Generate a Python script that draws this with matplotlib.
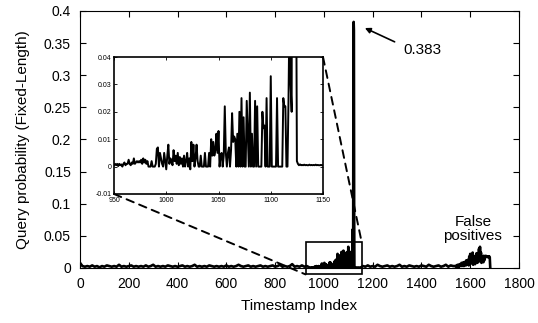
import matplotlib
matplotlib.use("Agg")
import matplotlib.pyplot as plt
import numpy as np
from matplotlib.patches import Rectangle, ConnectionPatch

plt.rcParams["font.family"] = ["Liberation Sans", "DejaVu Sans"]

# values are in units of 1e-3 (query probability)
# quiet stretch before the burst, one reading every 10 timestamps
quiet1_x = np.arange(0, 950, 10)
quiet1_y = [8, 3, 2, 3, 2, 4, 2, 3, 1, 3, 2, 4, 3, 2, 3, 2, 5, 2, 3, 2,
            3, 4, 2, 3, 2, 3, 2, 4, 2, 3, 5, 2, 3, 2, 3, 2, 4, 3, 2, 3,
            2, 3, 4, 2, 3, 2, 3, 5, 2, 3, 2, 3, 2, 4, 3, 2, 3, 2, 3, 2,
            4, 2, 3, 2, 3, 5, 3, 2, 3, 4, 2, 3, 2, 3, 4, 2, 3, 2, 3, 4,
            2, 3, 5, 2, 3, 2, 3, 6, 2, 3, 2, 4, 2, 3, 1]

# the burst, one reading per timestamp (950..1150)
burst_x = np.arange(950, 1151)
burst_y = [0.5, 1, 0.5, 1, 0.2, 1, 0.5, 0.8, 0, 1,
           1.5, 0.5, 1, 1, 2.5, 1, 0.5, 1.5, 1, 3,
           1, 1.5, 2, 1.5, 2, 1.5, 2.5, 1, 3, 1.5,
           2.5, 1, 2, 0, 0, 0, 2, 0, 0, 0,
           1, 6.5, 7, 0, 5, 3, 1, 0, 5, 2,
           -1, 4, 8, 1, 3, 2, 0.5, 6, 2, 4,
           1, 5, 0.5, 3.5, 1, 3, 0, 4, 0, 2,
           5, 0, 3, -1, 9, 2, 8, 0, 3, 8,
           2, 0, 0, 4, 0, 0, 0, 5, 0, 0,
           0, 5, 0, 10, 4, 9, 4, 6, 12, 5,
           13, 0, 4, 5, 0, 4, 22, 5, 0, 5,
           7, 0, 6, 19.5, 9, 11, 10, 0, 12, 0,
           20, 0, 25, 0, 18, 0, 0, 24, 12, 0,
           27, 0, 12, 0, 0, 24, 0, 22, 0, 0,
           0, 0, 20, 14, 15, 0, 25, 0, 0, 0,
           33, 0, 0, 0, 0, 0, 25, 0, 0, 0,
           0, 0, 25, 22, 22, 0, 0, 25, 60, 30,
           20, 300, 383, 370, 100, 2, 1, 0.5, 0.8, 0.5,
           0.6, 0.5, 0.7, 0.5, 0.6, 0.5, 0.5, 0.7, 0.5, 0.6,
           0.5, 0.6, 0.5, 0.7, 0.5, 0.6, 0.5, 0.5, 0.6, 0.5,
           0.5]

# quiet stretch after the burst
quiet2_x = np.arange(1160, 1540, 10)
quiet2_y = [3, 2, 4, 2, 3, 2, 5, 3, 2, 3, 4, 2, 3, 2, 3, 5, 2, 3, 2, 4,
            3, 2, 3, 2, 4, 3, 2, 5, 3, 2, 3, 4, 2, 3, 5, 2, 4, 3]

# false positives, one reading every 2 timestamps
fp_x = np.arange(1540, 1684, 2)
fp_y = [3, 2, 4, 2, 5, 3, 4, 2, 6, 3, 5, 4, 8, 3, 7, 4, 9, 3, 8, 5,
        10, 4, 12, 5, 11, 6, 13, 4, 18, 6, 22, 8, 16, 20, 7, 24, 5, 19, 12, 15,
        6, 14, 10, 23, 8, 21, 9, 17, 30, 12, 33, 10, 24, 8, 15, 11, 18, 9, 19, 12,
        18, 17, 19, 18, 17, 18, 17, 18, 17, 18, 17, 1]

t = np.concatenate([quiet1_x, burst_x, quiet2_x, fp_x])
prob = np.concatenate([quiet1_y, burst_y, quiet2_y, fp_y]) * 1e-3

peak_label = "0.383"
zoom_box = (925, -0.01, 1155, 0.04)   # x0, y0, x1, y1 of the marked region

fig = plt.figure(figsize=(5.38, 3.23), dpi=100)
ax = fig.add_axes([0.1487, 0.1703, 0.8160, 0.7957])

ax.plot(t, prob, color="black", lw=1.9)
ax.set_xlim(0, 1800)
ax.set_ylim(0, 0.4)
ax.set_xticks(np.arange(0, 1801, 200))
ax.set_yticks(np.arange(0, 0.401, 0.05))
ax.set_yticklabels(["0", "0.05", "0.1", "0.15", "0.2", "0.25", "0.3", "0.35", "0.4"])
ax.tick_params(direction="in", top=True, right=True, labelsize=10, length=4,
               width=0.8, pad=6.5)
ax.set_xlabel("Timestamp Index", fontsize=11, labelpad=6)
ax.set_ylabel("Query probability (Fixed-Length)", fontsize=11, labelpad=10)

ax.add_patch(Rectangle((zoom_box[0], zoom_box[1]), zoom_box[2] - zoom_box[0],
                       zoom_box[3] - zoom_box[1], fill=False, ec="black",
                       lw=1.2, clip_on=False, zorder=4))

# pointer to the peak
ax.annotate("", xy=(1168, 0.3735), xytext=(1290, 0.352),
            arrowprops=dict(arrowstyle="-|>", color="black", lw=1.2,
                            mutation_scale=8, shrinkA=0, shrinkB=0))
ax.text(1325, 0.339, peak_label, fontsize=11, ha="left", va="center")
ax.text(1611, 0.06, "False\npositives", fontsize=11, ha="center", va="center",
        linespacing=1.0)

# inset
ins = fig.add_axes([0.2119, 0.3994, 0.3885, 0.4241])
ins.plot(burst_x, np.array(burst_y) * 1e-3, color="black", lw=1.4)
ins.set_xlim(950, 1150)
ins.set_ylim(-0.01, 0.04)
ins.set_xticks([950, 1000, 1050, 1100, 1150])
ins.set_yticks([-0.01, 0, 0.01, 0.02, 0.03, 0.04])
ins.set_yticklabels(["-0.01", "0", "0.01", "0.02", "0.03", "0.04"])
ins.tick_params(direction="in", top=True, right=True, labelsize=5, length=2.5,
                width=0.6, pad=2)
for s in ins.spines.values():
    s.set_linewidth(1.2)

for xa, ya, xb, yb in [(950, -0.01, zoom_box[0], zoom_box[1]),
                       (1150, 0.04, zoom_box[2], zoom_box[3])]:
    con = ConnectionPatch(xyA=(xa, ya), coordsA=ins.transData,
                          xyB=(xb, yb), coordsB=ax.transData,
                          color="black", lw=1.4, linestyle=(0, (4, 3)), zorder=3)
    fig.add_artist(con)

fig.savefig("out.png", dpi=100)
